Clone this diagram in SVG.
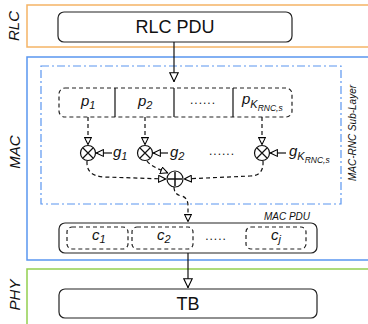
<svg xmlns="http://www.w3.org/2000/svg" width="368" height="324" viewBox="0 0 368 324">
  <defs>
    <marker id="tri" viewBox="0 0 10 10" refX="10" refY="5" markerWidth="10" markerHeight="10" markerUnits="userSpaceOnUse" orient="auto">
      <path d="M0.8,0.8 L9.5,5 L0.8,9.2 Z" fill="#fff" stroke="#000" stroke-width="1.1"/>
    </marker>
    <marker id="triS" viewBox="0 0 10 10" refX="10" refY="5" markerWidth="8" markerHeight="8" markerUnits="userSpaceOnUse" orient="auto">
      <path d="M0.8,0.8 L9.5,5 L0.8,9.2 Z" fill="#fff" stroke="#000" stroke-width="1.3"/>
    </marker>
  </defs>
  <style>
    text { font-family: "Liberation Sans", "DejaVu Sans", sans-serif; fill: #111; }
    .layer { fill: none; stroke-width: 1.5; }
    .box { fill: #fff; stroke: #222; stroke-width: 1.2; }
    .dbox { fill: none; stroke: #222; stroke-width: 1.2; stroke-dasharray: 4 3; }
    .solid { fill: none; stroke: #111; stroke-width: 1.2; }
    .dash { fill: none; stroke: #111; stroke-width: 1.2; stroke-dasharray: 4 3; }
    .big { font-size: 18px; text-anchor: middle; }
    .side { font-size: 15px; font-style: italic; text-anchor: middle; }
    .var { font-size: 15px; font-style: italic; }
    .sub { font-size: 11px; font-style: italic; }
    .ksub { font-size: 8.5px; font-style: italic; }
    .small { font-size: 10px; font-style: italic; }
    .dots { font-size: 12px; text-anchor: middle; letter-spacing: 1px; }
  </style>

  <!-- layer frames -->
  <g id="layers">
    <rect class="layer" x="27" y="5" width="350" height="42" stroke="#F5B466"/>
    <rect class="layer" x="27" y="57" width="350" height="203" stroke="#5A96F0"/>
    <rect class="layer" x="27" y="269" width="350" height="60" stroke="#92D050"/>
    <rect x="41" y="66" width="300" height="138" fill="none" stroke="#5A96F0" stroke-width="1.2" stroke-dasharray="8 3 2 3"/>
    <text class="side" transform="translate(19,26) rotate(-90)">RLC</text>
    <text class="side" transform="translate(20,152) rotate(-90)">MAC</text>
    <text class="side" transform="translate(20,295) rotate(-90)">PHY</text>
    <text class="small" text-anchor="middle" transform="translate(356,133) rotate(-90)">MAC-RNC Sub-Layer</text>
  </g>

  <!-- RLC PDU -->
  <g id="rlc-pdu">
    <rect class="box" x="58" y="12" width="234" height="30" rx="6"/>
    <text class="big" x="175" y="33">RLC PDU</text>
  </g>

  <!-- segmented packet -->
  <g id="packets">
    <rect class="dbox" x="59" y="88" width="233" height="29" rx="6"/>
    <line class="solid" x1="115" y1="88" x2="115" y2="117"/>
    <line class="solid" x1="174" y1="88" x2="174" y2="117"/>
    <line class="solid" x1="233" y1="88" x2="233" y2="117"/>
    <text class="var" x="81" y="106">p<tspan class="sub" dy="3">1</tspan></text>
    <text class="var" x="138" y="106">p<tspan class="sub" dy="3">2</tspan></text>
    <text class="dots" x="203" y="104">......</text>
    <text class="var" x="242" y="104">p<tspan class="sub" dy="4">K</tspan><tspan class="ksub" dy="3">RNC,s</tspan></text>
  </g>

  <!-- multipliers -->
  <g id="mul-1">
    <circle cx="88" cy="153" r="7.5" fill="#fff" stroke="#111" stroke-width="1.2"/>
    <path d="M83 148 L93 158 M93 148 L83 158" stroke="#111" stroke-width="1.2"/>
    <text class="var" x="113" y="157">g<tspan class="sub" dy="3">1</tspan></text>
  </g>
  <g id="mul-2">
    <circle cx="145" cy="153" r="7.5" fill="#fff" stroke="#111" stroke-width="1.2"/>
    <path d="M140 148 L150 158 M150 148 L140 158" stroke="#111" stroke-width="1.2"/>
    <text class="var" x="170" y="157">g<tspan class="sub" dy="3">2</tspan></text>
  </g>
  <text class="dots" x="222" y="155">......</text>
  <g id="mul-k">
    <circle cx="262" cy="153" r="7.5" fill="#fff" stroke="#111" stroke-width="1.2"/>
    <path d="M257 148 L267 158 M267 148 L257 158" stroke="#111" stroke-width="1.2"/>
    <text class="var" x="289" y="156">g<tspan class="sub" dy="4">K</tspan><tspan class="ksub" dy="3">RNC,s</tspan></text>
  </g>

  <!-- adder -->
  <g id="adder">
    <circle cx="175" cy="179" r="8" fill="#fff" stroke="#111" stroke-width="1.2"/>
    <path d="M175 172 L175 186 M168 179 L182 179" stroke="#111" stroke-width="1.5"/>
  </g>

  <!-- MAC PDU -->
  <g id="mac-pdu">
    <rect class="box" x="59" y="223" width="258" height="30" rx="6"/>
    <text class="small" x="287" y="220" text-anchor="middle">MAC PDU</text>
    <rect class="dbox" x="67" y="227" width="61" height="22" rx="5"/>
    <rect class="dbox" x="132" y="227" width="61" height="22" rx="5"/>
    <rect class="dbox" x="246" y="227" width="60" height="22" rx="5"/>
    <text class="var" x="92" y="240">c<tspan class="sub" dy="3">1</tspan></text>
    <text class="var" x="157" y="240">c<tspan class="sub" dy="3">2</tspan></text>
    <text class="dots" x="216" y="240">.....</text>
    <text class="var" x="271" y="240">c<tspan class="sub" dy="3">j</tspan></text>
  </g>

  <!-- TB -->
  <g id="tb">
    <rect class="box" x="59" y="289" width="258" height="29" rx="6"/>
    <text class="big" x="188" y="310">TB</text>
  </g>

  <!-- connectors -->
  <g id="connectors">
    <line class="solid" x1="174" y1="42" x2="174" y2="82" marker-end="url(#tri)"/>
    <line class="dash" x1="88" y1="117" x2="88" y2="145" marker-end="url(#triS)"/>
    <line class="dash" x1="145" y1="117" x2="145" y2="145" marker-end="url(#triS)"/>
    <line class="dash" x1="262" y1="117" x2="262" y2="145" marker-end="url(#triS)"/>
    <line class="solid" x1="112" y1="153" x2="96" y2="153" marker-end="url(#triS)"/>
    <line class="solid" x1="168" y1="153" x2="153" y2="153" marker-end="url(#triS)"/>
    <line class="solid" x1="286" y1="153" x2="270" y2="153" marker-end="url(#triS)"/>
    <path class="dash" d="M87 161 Q86 176 104 177 L166 179" marker-end="url(#triS)"/>
    <path class="dash" d="M147 161 Q150 166 168 173" marker-end="url(#triS)"/>
    <path class="dash" d="M263 161 Q264 176 250 176 L184 179" marker-end="url(#triS)"/>
    <path class="dash" d="M174 187 Q174 195 182 196 Q188 198 188 206 L188 222" marker-end="url(#triS)"/>
    <line class="solid" x1="188" y1="253" x2="188" y2="288" marker-end="url(#tri)"/>
  </g>
</svg>
